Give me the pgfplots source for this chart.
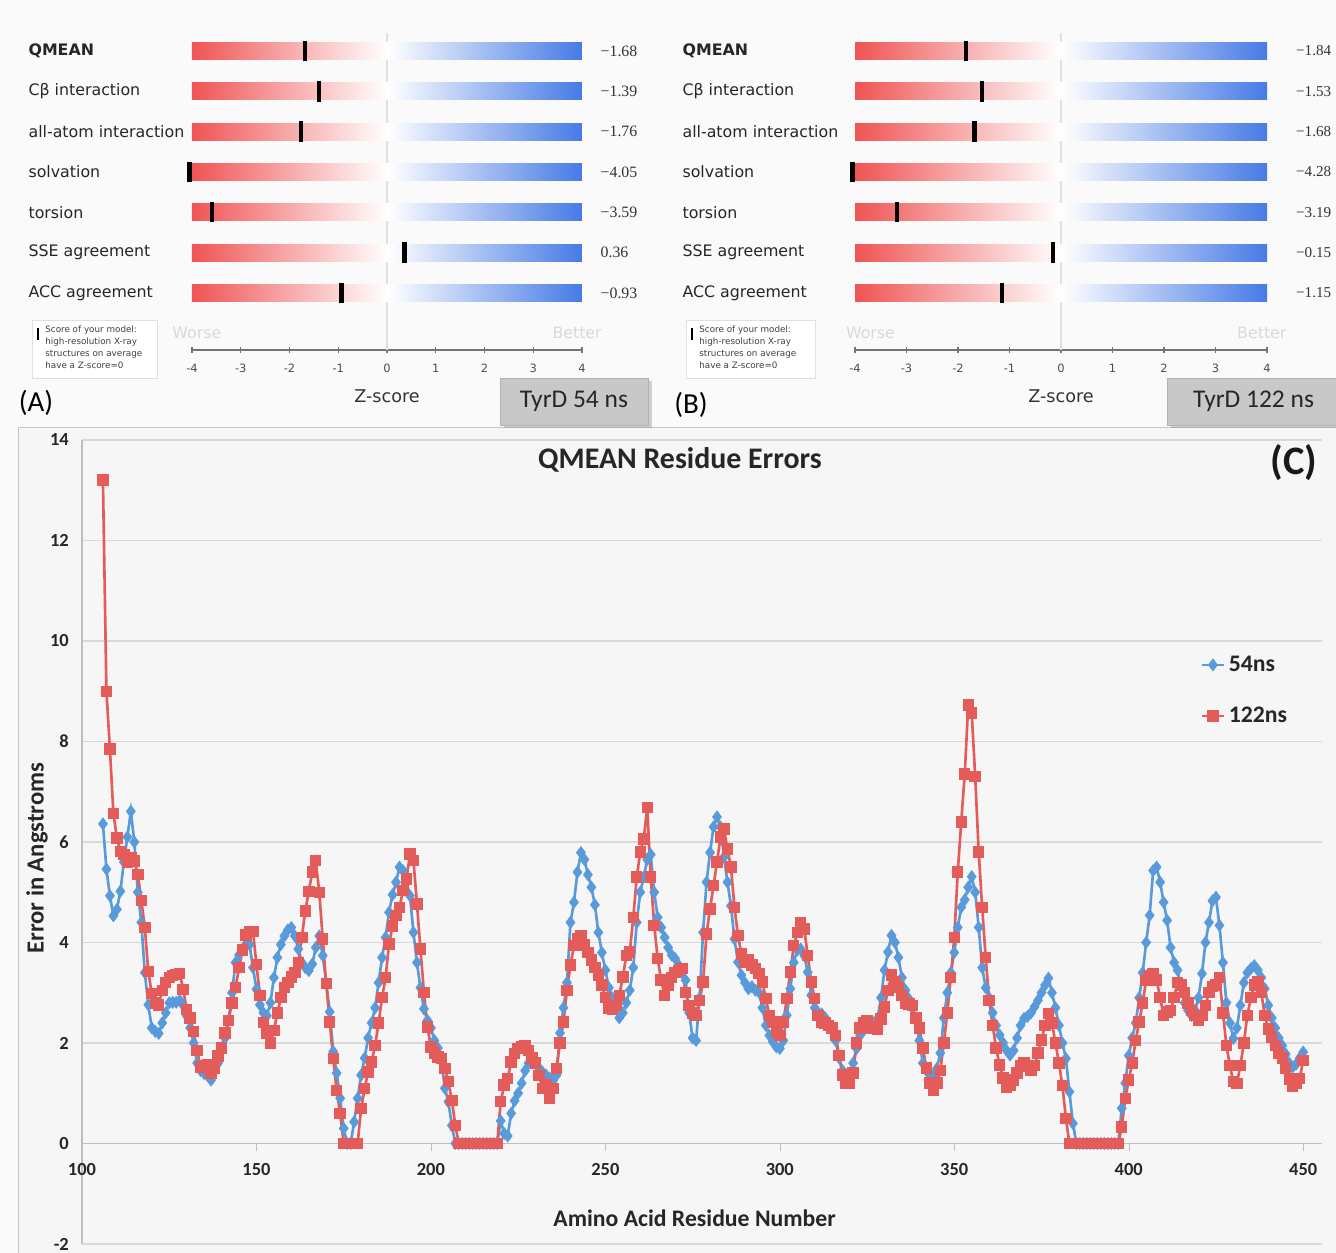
\documentclass[border=0pt]{standalone}
\usepackage{pgfplots}
\usepackage{pgfplotstable}
\pgfplotsset{compat=1.18}
\usepackage{fontspec}
\setmainfont{Carlito}
\newfontfamily\dv{DejaVu Sans}
\newfontfamily\tnr{Liberation Serif}
\usetikzlibrary{shadows}
\definecolor{qred}{RGB}{240,84,84}
\definecolor{qblue}{RGB}{70,122,230}
\definecolor{cblue}{RGB}{88,154,218}
\definecolor{cred}{RGB}{228,92,90}
\definecolor{bgcol}{RGB}{250,250,250}
\definecolor{chartbg}{RGB}{246,246,246}
\definecolor{boxgray}{RGB}{200,200,200}

\pgfplotstableread{
r b rd
106 6.36 13.2
107 5.46 9.0
108 4.93 7.85
109 4.53 6.57
110 4.66 6.08
111 5.02 5.81
112 5.6 5.75
113 6.1 5.59
114 6.61 5.68
115 6.0 5.62
116 5.0 5.35
117 4.4 4.84
118 3.4 4.3
119 2.76 3.42
120 2.3 2.98
121 2.23 2.8
122 2.19 2.76
123 2.4 3.05
124 2.6 3.2
125 2.8 3.3
126 2.81 3.34
127 2.81 3.36
128 2.85 3.38
129 2.75 3.07
130 2.54 2.67
131 2.3 2.5
132 2.0 2.23
133 1.6 1.85
134 1.45 1.52
135 1.39 1.55
136 1.35 1.57
137 1.26 1.4
138 1.45 1.5
139 1.6 1.74
140 1.9 1.9
141 2.1 2.2
142 2.45 2.45
143 3.0 2.8
144 3.6 3.1
145 3.75 3.5
146 3.87 3.85
147 4.1 4.15
148 3.96 4.22
149 3.5 4.22
150 3.07 3.56
151 2.76 2.94
152 2.6 2.41
153 2.54 2.19
154 2.8 2.0
155 3.3 2.25
156 3.7 2.6
157 3.96 2.9
158 4.13 3.1
159 4.25 3.2
160 4.3 3.31
161 4.13 3.4
162 3.87 3.6
163 3.6 4.1
164 3.5 4.63
165 3.44 5.02
166 3.57 5.4
167 3.9 5.63
168 4.13 5.0
169 3.74 4.07
170 3.2 3.18
171 2.62 2.42
172 1.83 1.69
173 1.4 1.05
174 0.9 0.6
175 0.3 0
176 0 0
177 0 0
178 0.43 0
179 0.9 0
180 1.36 0.7
181 1.7 1.09
182 2.1 1.42
183 2.4 1.62
184 2.7 1.95
185 3.2 2.4
186 3.7 2.9
187 4.1 3.3
188 4.6 3.97
189 4.95 4.33
190 5.2 4.54
191 5.5 4.7
192 5.43 5.03
193 5.2 5.26
194 4.93 5.76
195 4.2 5.63
196 3.6 4.77
197 3.1 3.87
198 2.68 3.01
199 2.45 2.32
200 2.3 1.92
201 2.05 1.8
202 1.9 1.72
203 1.65 1.69
204 1.1 1.49
205 0.83 1.23
206 0.36 0.86
207 0 0.36
208 0 0
209 0 0
210 0 0
211 0 0
212 0 0
213 0 0
214 0 0
215 0 0
216 0 0
217 0 0
218 0 0
219 0 0
220 0.45 0.83
221 0.2 1.16
222 0.15 1.29
223 0.6 1.62
224 0.85 1.79
225 1.0 1.89
226 1.2 1.92
227 1.45 1.95
228 1.6 1.85
229 1.65 1.7
230 1.6 1.6
231 1.5 1.35
232 1.42 1.1
233 1.36 1.16
234 1.3 0.89
235 1.25 1.09
236 1.36 1.49
237 2.2 2.0
238 2.7 2.42
239 3.2 3.05
240 4.4 3.55
241 4.8 3.94
242 5.4 4.07
243 5.79 4.14
244 5.65 3.95
245 5.35 3.8
246 5.1 3.65
247 4.75 3.5
248 4.2 3.35
249 3.8 3.15
250 3.45 2.9
251 3.1 2.7
252 2.9 2.68
253 2.7 2.75
254 2.5 2.95
255 2.6 3.31
256 2.8 3.74
257 3.05 3.81
258 3.5 4.5
259 4.4 5.3
260 5.0 5.8
261 5.3 6.06
262 5.65 6.69
263 5.75 5.3
264 5.0 4.34
265 4.5 3.68
266 4.3 3.25
267 4.1 2.95
268 3.9 3.15
269 3.75 3.3
270 3.68 3.4
271 3.55 3.44
272 3.4 3.48
273 3.25 3.0
274 2.6 2.75
275 2.1 2.6
276 2.05 2.55
277 2.9 2.85
278 4.2 3.21
279 5.2 4.17
280 5.79 4.67
281 6.3 5.13
282 6.5 5.6
283 6.3 6.1
284 5.7 6.26
285 5.2 5.86
286 4.73 5.5
287 4.07 4.7
288 3.61 4.14
289 3.35 3.77
290 3.2 3.6
291 3.08 3.65
292 3.12 3.55
293 3.05 3.48
294 3.01 3.38
295 2.7 3.21
296 2.35 2.88
297 2.15 2.55
298 2.02 2.42
299 1.92 2.22
300 1.89 2.15
301 2.05 2.42
302 2.55 2.88
303 3.08 3.41
304 3.6 3.94
305 3.85 4.2
306 3.87 4.4
307 3.74 4.27
308 3.41 3.74
309 2.95 3.21
310 2.7 2.88
311 2.6 2.55
312 2.58 2.42
313 2.5 2.4
314 2.4 2.35
315 2.3 2.3
316 2.05 2.15
317 1.7 1.75
318 1.45 1.36
319 1.36 1.19
320 1.36 1.19
321 1.6 1.4
322 1.89 2.0
323 2.15 2.3
324 2.25 2.4
325 2.3 2.45
326 2.33 2.32
327 2.4 2.3
328 2.48 2.28
329 2.9 2.48
330 3.45 2.72
331 3.81 3.05
332 4.14 3.35
333 4.0 3.21
334 3.7 3.1
335 3.3 2.95
336 3.05 2.8
337 2.88 2.78
338 2.7 2.75
339 2.45 2.5
340 2.05 2.3
341 1.6 1.9
342 1.45 1.5
343 1.3 1.2
344 1.35 1.06
345 1.49 1.2
346 1.8 1.45
347 2.5 2.0
348 3.0 2.6
349 3.4 3.3
350 3.8 4.1
351 4.3 5.4
352 4.7 6.4
353 4.85 7.35
354 5.1 8.73
355 5.31 8.57
356 5.0 7.3
357 4.3 5.8
358 3.5 4.7
359 3.1 3.7
360 2.9 2.85
361 2.6 2.35
362 2.35 1.9
363 2.16 1.56
364 2.0 1.3
365 1.85 1.12
366 1.76 1.15
367 1.85 1.26
368 2.1 1.4
369 2.35 1.55
370 2.49 1.6
371 2.53 1.53
372 2.6 1.45
373 2.72 1.55
374 2.85 1.8
375 3.0 2.06
376 3.15 2.35
377 3.29 2.59
378 3.0 2.4
379 2.7 2.0
380 2.35 1.6
381 2.0 1.15
382 1.69 0.5
383 1.03 0
384 0.4 0
385 0 0
386 0 0
387 0 0
388 0 0
389 0 0
390 0 0
391 0 0
392 0 0
393 0 0
394 0 0
395 0 0
396 0 0
397 0 0
398 0.7 0.33
399 1.2 0.9
400 1.75 1.26
401 2.1 1.6
402 2.4 2.05
403 2.9 2.42
404 3.4 2.8
405 4.0 3.25
406 4.54 3.34
407 5.43 3.38
408 5.5 3.25
409 5.2 2.9
410 4.8 2.55
411 4.44 2.62
412 3.9 2.65
413 3.6 2.9
414 3.45 3.2
415 3.1 3.15
416 2.8 3.0
417 2.65 2.8
418 2.55 2.65
419 2.65 2.55
420 2.9 2.45
421 3.38 2.55
422 4.0 2.75
423 4.4 3.0
424 4.83 3.12
425 4.9 3.15
426 4.34 3.3
427 3.6 2.6
428 2.8 1.95
429 2.4 1.55
430 2.09 1.23
431 2.3 1.19
432 2.75 1.55
433 3.2 2.0
434 3.4 2.55
435 3.48 2.9
436 3.54 3.15
437 3.45 3.21
438 3.3 3.0
439 3.08 2.55
440 2.75 2.28
441 2.5 2.12
442 2.3 1.95
443 2.1 1.8
444 1.95 1.7
445 1.78 1.5
446 1.6 1.28
447 1.52 1.13
448 1.58 1.19
449 1.7 1.29
450 1.82 1.65
}\residues

\pgfplotsset{
  zpanel/.style={
    scale only axis, anchor=south west,
    xmin=-4, xmax=4, ymin=-0.414, ymax=7.397,
    clip=false,
    axis x line*=bottom, axis y line*=left,
    y axis line style={draw=none},
    x axis line style={draw=black!55, line width=0.6pt},
    xtick={-4,-3,-2,-1,0,1,2,3,4},
    xticklabels={-4,-3,-2,-1,0,1,2,3,4},
    xtick style={draw=black!55, line width=0.6pt},
    tick align=center, major tick length=3pt,
    xticklabel style={font=\dv\fontsize{6.5}{7}\selectfont, text=black!70, yshift=-3pt},
    ytick={1,2,3,4,5,6,7},
    yticklabels={ACC agreement,SSE agreement,torsion,solvation,all-atom interaction,Cβ interaction,\textbf{QMEAN}},
    ytick style={draw=none},
    xlabel={Z-score},
    xlabel style={at={(axis description cs:0.5,0)}, anchor=center, yshift=-0.92cm, font=\dv\fontsize{10}{12}\selectfont, text=black!80},
  },
}

\begin{document}
\begin{tikzpicture}
\useasboundingbox (0,0) rectangle (26.72,25.06);
\fill[bgcol] (0,0) rectangle (26.72,25.06);
\draw[black!22, fill=chartbg] (0.36,-0.5) rectangle (27.2,16.52);

% ---------- panel A ----------
\begin{axis}[zpanel, at={(3.84cm,18.06cm)}, width=7.8cm, height=6.3cm,
  yticklabel style={anchor=west, xshift=-3.34cm, font=\dv\fontsize{9}{10}\selectfont, text=black!85}]
\draw[black!12, line width=0.6pt] (axis cs:0,-0.414) -- (axis cs:0,7.45);
\fill[left color=qred, right color=qblue, middle color=white] (axis cs:-4,0.79) rectangle (axis cs:4,1.21);
\fill[left color=qred, right color=qblue, middle color=white] (axis cs:-4,1.79) rectangle (axis cs:4,2.21);
\fill[left color=qred, right color=qblue, middle color=white] (axis cs:-4,2.79) rectangle (axis cs:4,3.21);
\fill[left color=qred, right color=qblue, middle color=white] (axis cs:-4,3.79) rectangle (axis cs:4,4.21);
\fill[left color=qred, right color=qblue, middle color=white] (axis cs:-4,4.79) rectangle (axis cs:4,5.21);
\fill[left color=qred, right color=qblue, middle color=white] (axis cs:-4,5.79) rectangle (axis cs:4,6.21);
\fill[left color=qred, right color=qblue, middle color=white] (axis cs:-4,6.79) rectangle (axis cs:4,7.21);
\addplot[only marks, mark=|, mark size=5.8pt, black, mark options={line width=2.5pt}]
  coordinates {(-1.68,7) (-1.39,6) (-1.76,5) (-4.05,4) (-3.59,3) (0.36,2) (-0.93,1)};
\foreach \v/\k in {−1.68/7, −1.39/6, −1.76/5, −4.05/4, −3.59/3, 0.36/2, −0.93/1}{
  \edef\tmp{\noexpand\node[anchor=west, xshift=0.25cm, font=\noexpand\tnr\noexpand\fontsize{9}{10}\noexpand\selectfont, text=black!80] at (axis cs:4,\k) {\v};}\tmp
}
\node[font=\dv\fontsize{9}{10}\selectfont, text=black!15] at (axis cs:-3.9,-0.0) {Worse};
\node[font=\dv\fontsize{9}{10}\selectfont, text=black!15] at (axis cs:3.9,-0.0) {Better};
\end{axis}

% ---------- panel B ----------
\begin{axis}[zpanel, at={(17.1cm,18.06cm)}, width=8.24cm, height=6.3cm,
  yticklabel style={anchor=west, xshift=-3.52cm, font=\dv\fontsize{9}{10}\selectfont, text=black!85}]
\draw[black!12, line width=0.6pt] (axis cs:0,-0.414) -- (axis cs:0,7.45);
\fill[left color=qred, right color=qblue, middle color=white] (axis cs:-4,0.79) rectangle (axis cs:4,1.21);
\fill[left color=qred, right color=qblue, middle color=white] (axis cs:-4,1.79) rectangle (axis cs:4,2.21);
\fill[left color=qred, right color=qblue, middle color=white] (axis cs:-4,2.79) rectangle (axis cs:4,3.21);
\fill[left color=qred, right color=qblue, middle color=white] (axis cs:-4,3.79) rectangle (axis cs:4,4.21);
\fill[left color=qred, right color=qblue, middle color=white] (axis cs:-4,4.79) rectangle (axis cs:4,5.21);
\fill[left color=qred, right color=qblue, middle color=white] (axis cs:-4,5.79) rectangle (axis cs:4,6.21);
\fill[left color=qred, right color=qblue, middle color=white] (axis cs:-4,6.79) rectangle (axis cs:4,7.21);
\addplot[only marks, mark=|, mark size=5.8pt, black, mark options={line width=2.5pt}]
  coordinates {(-1.84,7) (-1.53,6) (-1.68,5) (-4.05,4) (-3.19,3) (-0.15,2) (-1.15,1)};
\foreach \v/\k in {−1.84/7, −1.53/6, −1.68/5, −4.28/4, −3.19/3, −0.15/2, −1.15/1}{
  \edef\tmp{\noexpand\node[anchor=west, xshift=0.46cm, font=\noexpand\tnr\noexpand\fontsize{8.6}{10}\noexpand\selectfont, text=black!80] at (axis cs:4,\k) {\v};}\tmp
}
\node[font=\dv\fontsize{9}{10}\selectfont, text=black!15] at (axis cs:-3.7,-0.0) {Worse};
\node[font=\dv\fontsize{9}{10}\selectfont, text=black!15] at (axis cs:3.9,-0.0) {Better};
\end{axis}

% small legend boxes
\draw[black!12, fill=white] (0.64,17.5) rectangle (3.14,18.66);
\draw[black, line width=1.2pt] (0.76,18.26) -- (0.76,18.5);
\node[anchor=north west, align=left, inner sep=0, font=\dv\fontsize{5}{7}\selectfont, text=black!75] at (0.9,18.56)
 {Score of your model:\\high-resolution X-ray\\structures on average\\have a Z-score=0};
\draw[black!12, fill=white] (13.72,17.5) rectangle (16.3,18.66);
\draw[black, line width=1.2pt] (13.84,18.26) -- (13.84,18.5);
\node[anchor=north west, align=left, inner sep=0, font=\dv\fontsize{5}{7}\selectfont, text=black!75] at (13.98,18.56)
 {Score of your model:\\high-resolution X-ray\\structures on average\\have a Z-score=0};

\node[font=\fontsize{16.5}{18}\selectfont, text=black] at (0.72,17.0) {(A)};
\node[font=\fontsize{16.5}{18}\selectfont, text=black] at (13.82,16.96) {(B)};

\node[fill=boxgray, draw=black!30, minimum width=2.96cm, minimum height=0.94cm, inner sep=0,
  drop shadow={shadow xshift=0.07cm, shadow yshift=-0.07cm, opacity=0.35},
  font=\fontsize{14.5}{16}\selectfont, text=black!85] at (11.48,17.03) {TyrD 54 ns};
\node[fill=boxgray, draw=black!30, minimum width=3.46cm, minimum height=0.94cm, inner sep=0,
  drop shadow={shadow xshift=0.07cm, shadow yshift=-0.07cm, opacity=0.35},
  font=\fontsize{14.5}{16}\selectfont, text=black!85] at (25.07,17.03) {TyrD 122 ns};

% ---------- panel C ----------
\begin{axis}[
  at={(1.64cm,0.18cm)}, anchor=south west,
  scale only axis, width=24.8cm, height=16.08cm,
  xmin=100, xmax=455.4, ymin=-2, ymax=14,
  axis x line*=middle, axis y line*=left,
  axis line style={draw=black!25, line width=0.8pt},
  hide obscured x ticks=false, hide obscured y ticks=false,
  xtick={100,150,...,450}, ytick={-2,0,...,14},
  ymajorgrids, grid style={black!15, line width=0.9pt},
  tick label style={font=\bfseries\fontsize{10.5}{12}\selectfont, text=black!85},
  /pgf/number format/assume math mode=true,
  ytick style={draw=none}, xtick style={draw=black!25},
  major tick length=4pt, tick align=outside,
  xticklabel style={yshift=-4pt},
  xlabel={Amino Acid Residue Number},
  xlabel style={at={(axis description cs:0.494,0.032)}, anchor=center, font=\bfseries\fontsize{13.5}{15}\selectfont, text=black!85},
  ylabel={Error in Angstroms},
  ylabel style={at={(axis description cs:-0.0363,0.48)}, anchor=center, font=\bfseries\fontsize{14}{16}\selectfont, text=black!85},
  legend style={at={(axis cs:419,9.85)}, anchor=north west, draw=none, fill=none,
    font=\bfseries\fontsize{13.5}{15}\selectfont, row sep=0.52cm, text=black!85},
  legend cell align=left,
  legend image code/.code={\draw[mark repeat=2,mark phase=2] plot coordinates {(0cm,0cm) (0.22cm,0cm) (0.44cm,0cm)};},
]
\addplot[cblue, line width=1.5pt, mark=diamond*, mark size=2.5pt, mark options={solid}] table[x=r, y=b] {\residues};
\addlegendentry{54ns}
\addplot[cred, line width=1.5pt, mark=square*, mark size=2.5pt, mark options={solid}] table[x=r, y=rd] {\residues};
\addlegendentry{122ns}
\end{axis}

\node[font=\bfseries\fontsize{17}{19}\selectfont, text=black!85] at (13.6,15.86) {QMEAN Residue Errors};
\node[font=\bfseries\fontsize{23}{25}\selectfont, text=black!90] at (25.88,15.8) {(C)};
\end{tikzpicture}
\end{document}
